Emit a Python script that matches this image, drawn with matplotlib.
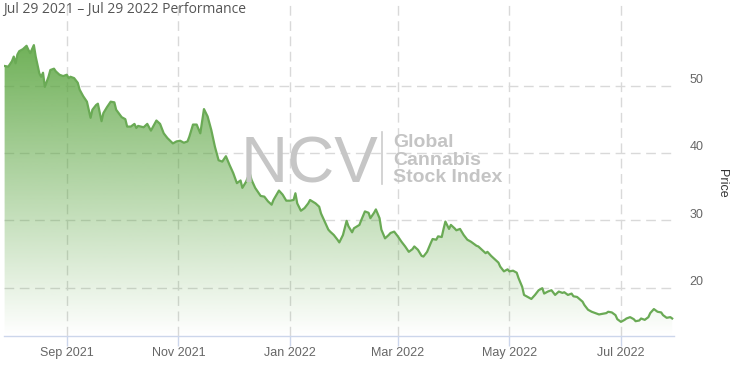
import numpy as np
import pandas as pd
import matplotlib
matplotlib.use("Agg")
import matplotlib.pyplot as plt
import matplotlib.dates as mdates
from matplotlib.transforms import ScaledTranslation
from matplotlib.lines import Line2D

# data: days since 2021-07-29 and closing price
start = pd.Timestamp("2021-07-29")
days = [0, 2, 4, 5, 6, 7, 8, 10, 12, 13, 14, 16, 17, 19, 20, 21, 22, 24, 25, 27,
        28, 30, 32, 34, 35, 36, 38, 40, 41, 43, 45, 47, 48, 50, 51, 53, 54, 56, 58, 60,
        61, 64, 66, 67, 69, 71, 72, 73, 76, 78, 80, 83, 85, 87, 89, 92, 94, 96, 98, 100,
        101, 103, 105, 107, 109, 111, 113, 115, 117, 119, 121, 123, 125, 127, 129, 130, 132, 134, 135, 137,
        140, 142, 144, 146, 147, 150, 152, 154, 156, 158, 159, 160, 162, 164, 166, 167, 170, 172, 173, 175,
        177, 178, 180, 182, 183, 185, 187, 188, 190, 191, 194, 195, 197, 199, 200, 202, 203, 205, 206, 208,
        210, 211, 213, 215, 217, 219, 221, 223, 224, 226, 228, 229, 231, 233, 234, 236, 237, 239, 240, 241,
        243, 244, 246, 247, 249, 251, 253, 255, 258, 259, 261, 263, 264, 266, 268, 270, 271, 273, 275, 276,
        278, 280, 281, 283, 284, 286, 288, 290, 292, 294, 295, 297, 299, 301, 303, 305, 306, 308, 310, 311,
        313, 316, 317, 319, 321, 323, 325, 327, 329, 330, 332, 334, 335, 337, 339, 340, 342, 344, 345, 347,
        348, 350, 352, 353, 355, 357, 359, 360, 362, 364, 365]
price = [52.9, 52.8, 53.6, 54.3, 53.3, 54.6, 55.1, 55.4, 55.9, 55.3, 54.8, 56.0, 54.3, 51.8, 51.3, 51.9, 49.8, 51.3, 52.3, 52.5,
         52.1, 51.6, 51.4, 51.6, 51.1, 51.3, 51.1, 50.4, 49.4, 48.4, 47.6, 45.2, 46.4, 47.1, 47.3, 44.7, 45.9, 46.8, 47.6, 47.5,
         46.4, 45.3, 45.0, 43.9, 43.9, 44.3, 43.7, 44.0, 43.8, 44.3, 43.3, 44.8, 44.3, 42.9, 42.2, 41.4, 41.7, 41.8, 41.5, 41.7,
         42.4, 44.2, 44.2, 42.9, 46.5, 45.4, 43.4, 40.9, 38.9, 38.7, 39.5, 38.2, 37.0, 35.5, 35.9, 34.8, 35.7, 37.0, 36.0, 34.8,
         33.6, 33.5, 32.8, 32.3, 33.0, 34.4, 33.8, 32.9, 32.9, 33.0, 34.0, 32.5, 31.4, 31.8, 32.5, 33.0, 32.5, 32.0, 31.0, 29.8,
         28.6, 28.3, 27.8, 27.1, 26.7, 27.8, 29.9, 29.1, 28.2, 28.8, 29.3, 30.0, 31.3, 31.1, 30.3, 31.1, 31.6, 30.3, 28.6, 27.3,
         27.8, 28.1, 28.3, 27.6, 26.8, 26.1, 25.3, 25.7, 26.1, 25.6, 24.7, 24.6, 25.3, 26.6, 27.2, 27.1, 27.6, 27.5, 28.7, 29.8,
         28.7, 29.3, 28.8, 28.5, 28.7, 27.8, 27.1, 26.8, 26.2, 26.1, 25.6, 25.1, 25.3, 24.7, 24.2, 23.7, 23.1, 22.4, 22.7, 22.4,
         22.5, 22.2, 21.4, 20.1, 18.9, 18.6, 18.3, 18.9, 19.6, 19.9, 19.1, 19.4, 19.6, 18.9, 19.4, 19.2, 19.3, 18.9, 19.1, 18.7,
         18.6, 17.9, 17.4, 16.7, 16.4, 16.2, 16.0, 16.1, 16.2, 16.4, 16.3, 15.9, 15.3, 14.9, 15.2, 15.4, 15.6, 15.3, 15.0, 15.1,
         15.4, 15.2, 15.6, 16.2, 16.8, 16.4, 16.3, 15.9, 15.5, 15.6, 15.4]
month_ticks = ["2021-09-01", "2021-11-01", "2022-01-01", "2022-03-01", "2022-05-01", "2022-07-01"]
y_ticks = [20, 30, 40, 50]

W, H = 742, 369
green = "#5aa53f"
grid_c = "#d9d9d9"
axis_c = "#ccd6eb"

x = mdates.date2num(start + pd.to_timedelta(days, unit="D"))
y = np.array(price)

fig = plt.figure(figsize=(W / 100, H / 100), dpi=100)
ax = fig.add_axes([4 / W, 33 / H, 670 / W, 336 / H])
x0 = mdates.date2num(start - pd.Timedelta(hours=8))
x1 = mdates.date2num(start + pd.Timedelta(days=366))
y0, y1 = 12.8, 62.7
ax.set_xlim(x0, x1)
ax.set_ylim(y0, y1)

# gradient area under the line
fill = ax.fill_between(x, y, y0, facecolor="none", edgecolor="none")
rgb = matplotlib.colors.to_rgb(green)
grad = np.zeros((256, 1, 4))
grad[:, 0, :3] = rgb
grad[:, 0, 3] = np.linspace(1.0, 0.0, 256)
im = ax.imshow(grad, extent=[x0, x1, y0, y1], aspect="auto", origin="upper", zorder=1)
im.set_clip_path(fill.get_paths()[0], transform=ax.transData)
ax.plot(x, y, color="#6aaa55", lw=1.6, zorder=3, solid_joinstyle="round")

# axes styling
for s in ["top", "left", "right"]:
    ax.spines[s].set_visible(False)
ax.spines["bottom"].set_color(axis_c)
ax.spines["bottom"].set_linewidth(1)
ax.set_xticks(mdates.date2num(pd.to_datetime(month_ticks)))
ax.xaxis.set_major_formatter(mdates.DateFormatter("%b %Y"))
ax.tick_params(axis="x", length=7, width=1, color=axis_c, pad=1, labelsize=9,
               labelcolor="#666666")
ax.yaxis.tick_right()
ax.set_yticks(y_ticks)
ax.tick_params(axis="y", length=0, pad=11, labelsize=9, labelcolor="#666666")
for lab in ax.get_xticklabels() + ax.get_yticklabels():
    lab.set_fontfamily("Liberation Sans")
for lab in ax.get_yticklabels():
    lab.set_transform(lab.get_transform() + ScaledTranslation(0, 7 / 100, fig.dpi_scale_trans))
ax.grid(True, color=grid_c, lw=1, ls=(0, (7, 4)), zorder=0)
ax.set_axisbelow(True)
ax.patch.set_alpha(0)

# watermark
fig.text(241 / W, 1 - 183 / H, "NCV", family="Liberation Sans", size=47,
         color="#c6c6c6", ha="left", va="baseline", zorder=0.5)
fig.add_artist(Line2D([382 / W, 382 / W], [1 - 132 / H, 1 - 184 / H], color="#cccccc", lw=1.2))
for txt, base in [("Global", 147), ("Cannabis", 165), ("Stock Index", 182)]:
    fig.text(393 / W, 1 - base / H, txt, family="Liberation Sans", weight="bold", size=14,
             color="#c4c4c4", ha="left", va="baseline")

fig.text(3 / W, 1 - 9 / H, "Jul 29 2021 \u2013 Jul 29 2022 Performance", family="Open Sans",
         size=10, color="#555555", ha="left", va="center")
fig.text(722 / W, 1 - 183 / H, "Price", rotation=-90, family="Liberation Sans", size=9,
         color="#333333", ha="center", va="center")

fig.savefig("out.png", dpi=100)
